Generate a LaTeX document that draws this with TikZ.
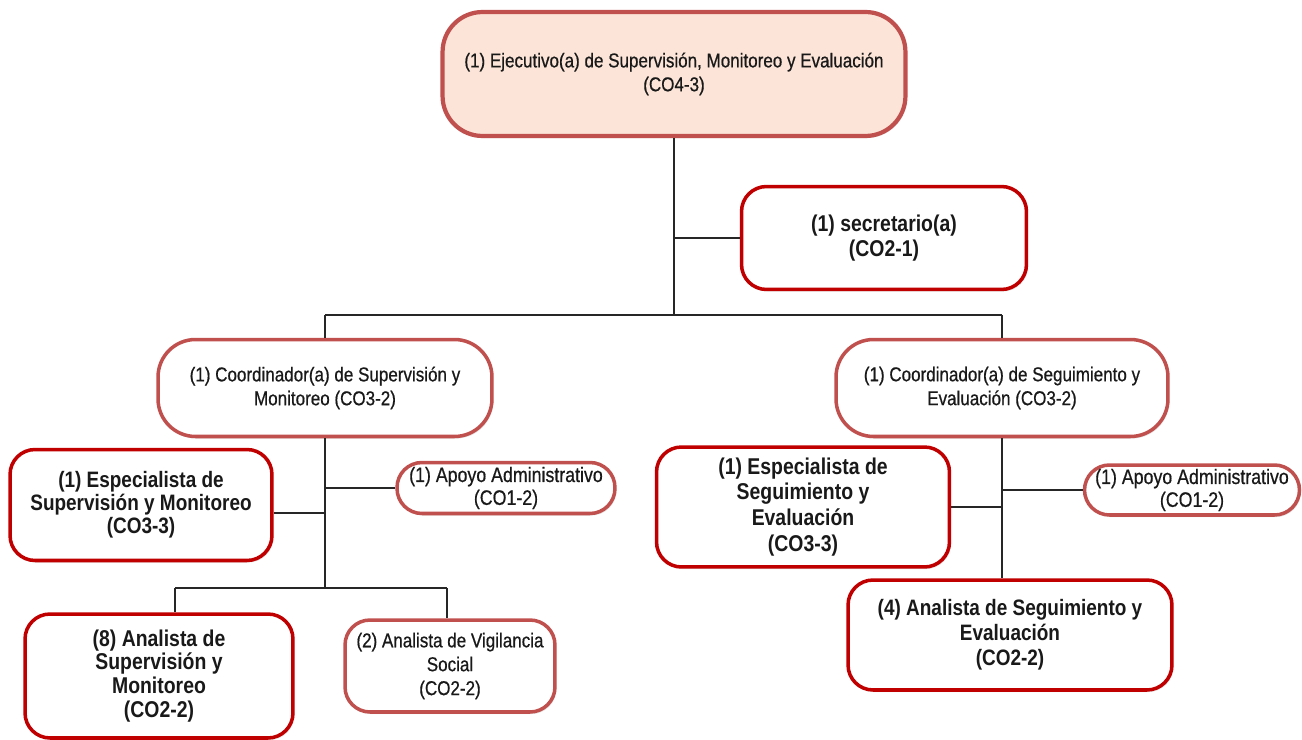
\documentclass[tikz,border=0pt]{standalone}
\usepackage{fontspec}
\setmainfont{Liberation Sans}
\newfontfamily\narrowfont{Liberation Sans}[FakeStretch=0.85]
\newfontfamily\plainfont{Liberation Sans}[FakeStretch=0.85, FakeBold=0.6]
\usetikzlibrary{shadows}

\definecolor{boxred}{RGB}{192,80,77}
\definecolor{deepred}{RGB}{192,0,0}
\definecolor{peach}{RGB}{252,229,216}

\tikzset{
	post/.style={draw=boxred, line width=2pt, fill=white, align=center, inner sep=0pt,
		text=black!90, font=\plainfont\fontsize{11.4}{13.6}\selectfont,
		drop shadow={opacity=0.2, shadow xshift=0.8pt, shadow yshift=-1.2pt}},
	keypost/.style={post, draw=deepred, font=\narrowfont\bfseries\fontsize{13}{14.4}\selectfont},
	link/.style={line width=0.8pt, black!85},
}

\begin{document}
\begin{tikzpicture}[x=0.02cm, y=-0.02cm]
	\useasboundingbox (0,0) rectangle (1302,740);

	%boxes
	\node[post, fill=peach, line width=2.4pt, rounded corners=0.8cm, minimum width=9.26cm, minimum height=2.48cm]
		(ejec) at (674,74) {(1) Ejecutivo(a) de Supervisión, Monitoreo y Evaluación\\(CO4-3)};
	\node[keypost, rounded corners=0.5cm, minimum width=5.7cm, minimum height=2.06cm]
		(secr) at (884,238) {(1) secretario(a)\\(CO2-1)};
	\node[post, rounded corners=0.75cm, minimum width=6.68cm, minimum height=1.94cm]
		(coordL) at (325,388) {(1) Coordinador(a) de Supervisión y\\Monitoreo (CO3-2)};
	\node[post, rounded corners=0.75cm, minimum width=6.64cm, minimum height=1.94cm]
		(coordR) at (1002,388) {(1) Coordinador(a) de Seguimiento y\\Evaluación (CO3-2)};

	%left side
	\node[keypost, rounded corners=0.5cm, minimum width=5.24cm, minimum height=2.22cm,
		font=\narrowfont\bfseries\fontsize{12.7}{13.2}\selectfont]
		(espL) at (141,505) {(1) Especialista de\\Supervisión y Monitoreo\\(CO3-3)};
	\node[post, rounded corners=0.5cm, minimum width=4.36cm, minimum height=1.02cm,
		font=\plainfont\fontsize{11.9}{13}\selectfont]
		(apoyoL) at (506,488) {(1) Apoyo Administrativo\\(CO1-2)};
	\node[keypost, rounded corners=0.5cm, minimum width=5.36cm, minimum height=2.48cm,
		font=\narrowfont\bfseries\fontsize{13}{13.6}\selectfont]
		(anaL) at (159,676) {(8) Analista de\\Supervisión y\\Monitoreo\\(CO2-2)};
	\node[post, rounded corners=0.5cm, minimum width=4.2cm, minimum height=1.84cm]
		(vigL) at (450,666) {(2) Analista de Vigilancia\\Social\\(CO2-2)};

	%right side
	\node[keypost, rounded corners=0.5cm, minimum width=5.86cm, minimum height=2.4cm,
		font=\narrowfont\bfseries\fontsize{13}{14.7}\selectfont]
		(espR) at (803,507) {(1) Especialista de\\Seguimiento y\\Evaluación\\(CO3-3)};
	\node[post, rounded corners=0.5cm, minimum width=4.3cm, minimum height=1.0cm,
		font=\plainfont\fontsize{11.9}{13}\selectfont]
		(apoyoR) at (1192,490) {(1) Apoyo Administrativo\\(CO1-2)};
	\node[keypost, rounded corners=0.5cm, minimum width=6.48cm, minimum height=2.2cm,
		font=\narrowfont\bfseries\fontsize{12.7}{14.2}\selectfont]
		(anaR) at (1010,635) {(4) Analista de Seguimiento y\\Evaluación\\(CO2-2)};

	%joints
	\coordinate (bar) at (672,315);
	\coordinate (dropA) at (175,588);
	\coordinate (dropB) at (447,588);

	%lines
	\draw[link]	(ejec.south) -- (ejec.south |- bar);							%trunk
	\draw[link]	(secr.west) -- (secr.west -| ejec.south);
	\draw[link]	(coordL.north |- bar) -- (coordR.north |- bar);
	\draw[link]	(coordL.north |- bar) -- (coordL.north);
	\draw[link]	(coordR.north |- bar) -- (coordR.north);
	\draw[link]	(coordL.south) -- (coordL.south |- dropA);						%left
	\draw[link]	([yshift=-0.16cm]espL.east) -- ([yshift=-0.16cm]espL.east -| coordL.south);
	\draw[link]	(apoyoL.west) -- (apoyoL.west -| coordL.south);
	\draw[link]	(dropA) -- (dropB);
	\draw[link]	(dropA) -- (dropA |- anaL.north);
	\draw[link]	(dropB) -- (dropB |- vigL.north);
	\draw[link]	(coordR.south) -- (coordR.south |- anaR.north);					%right
	\draw[link]	(espR.east) -- (espR.east -| coordR.south);
	\draw[link]	(apoyoR.west) -- (apoyoR.west -| coordR.south);
\end{tikzpicture}
\end{document}
